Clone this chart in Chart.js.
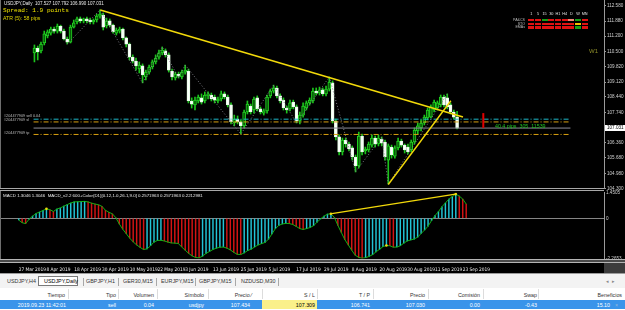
<!DOCTYPE html>
<html>
<head>
<meta charset="utf-8">
<title>USDJPY,Daily</title>
<script src="https://cdn.jsdelivr.net/npm/chart.js@4.4.1/dist/chart.umd.min.js"></script>
<style>
  html, body { margin: 0; padding: 0; }
  body { width: 625px; height: 310px; overflow: hidden; background: #000; position: relative;
         font-family: 'Liberation Sans', Arial, sans-serif; }
  .abs { position: absolute; white-space: nowrap; }
  #price_box { position: absolute; left: 0; top: 0; width: 625px; height: 191px; }
  #macd_box { position: absolute; left: 0; top: 190px; width: 625px; height: 83px; }
  .cell { position: absolute; width: 6px; height: 2.4px; }
  .tab { position: absolute; top: 278px; font-size: 5.4px; line-height: 6px; color: #333; }
  .th { position: absolute; top: 291.5px; font-size: 5.3px; line-height: 6px; color: #333; text-align: right; }
  .td { position: absolute; top: 301.5px; font-size: 5.3px; line-height: 6px; color: #fff; text-align: right; }
</style>
</head>
<body>
<div id="price_box"><canvas id="price_chart" width="625" height="191"></canvas></div>
<div id="macd_box"><canvas id="macd_chart" width="625" height="83"></canvas></div>

<div class="abs" style="left:0;top:0;width:1px;height:259px;background:#6e6e6e"></div>
<div class="abs" style="left:0;top:188px;width:604px;height:1px;border-top:1px solid #a8a8a8;border-bottom:1px solid #a8a8a8;background:#000"></div>
<div class="abs" style="left:0;top:259px;width:625px;height:2px;border-top:1px solid #b4b4b4;border-bottom:1px solid #b4b4b4;background:#4a4a4a"></div>
<div class="abs" style="left:604px;top:263px;width:21px;height:10px;background:#3c3c3c"></div>

<div class="abs" style="left:4px;top:0.5px;font-size:4.5px;line-height:6px;color:#e8e8e8">USDJPY,Daily&nbsp; 107.527 107.792 106.990 107.031</div>
<div class="abs" style="left:3px;top:7.5px;font-family:'Liberation Mono',monospace;font-size:6.1px;line-height:6px;color:#f0e400">Spread: 1.9 points</div>
<div class="abs" style="left:3px;top:15px;font-size:5.2px;line-height:6px;color:#e0d400">ATR (5): 58 pips</div>
<div class="abs" style="left:589px;top:48px;font-size:6px;line-height:6px;color:#8f8f2a">W1</div>
<div class="abs" style="left:4px;top:114px;font-size:3.8px;line-height:4px;color:#bcbcbc">#204477909 sell 0.04</div>
<div class="abs" style="left:4px;top:117.5px;font-size:3.8px;line-height:4px;color:#bcbcbc">#204477909 sl</div>
<div class="abs" style="left:4px;top:130.5px;font-size:3.8px;line-height:4px;color:#bcbcbc">#204477909 tp</div>
<div class="abs" style="left:495px;top:123px;font-size:5.3px;line-height:6px;color:#22c422">40.4 pips&nbsp; 305&nbsp; 11539</div>
<div class="abs" style="left:3px;top:193px;font-size:4.4px;line-height:5px;color:#e8e8e8">MACD 1.3046 1.3046&nbsp; MACD_v2.2 600+Color(D1)[0.12,1.0,26.1,9.0] 0.2571963 0.2571963 0.2212981</div>
<div id="dash"></div>

<div class="abs" style="left:0;top:273px;width:625px;height:15px;background:#f3f3f3;border-top:1px solid #9c9c9c;box-sizing:border-box"></div>
<div class="abs" style="left:38px;top:275.5px;width:40px;height:10.5px;background:#fff;border:1px solid #7a7a7a;box-sizing:border-box"></div>
<div id="tabs"></div>
<div class="abs" style="left:606px;top:278px;font-size:5px;color:#888">&#9666;&nbsp;&nbsp;&#9656;</div>
<div class="abs" style="left:0;top:288px;width:625px;height:11.5px;background:#fff"></div>
<div class="abs" style="left:0;top:299.5px;width:625px;height:9.5px;background:#3a94ea"></div>
<div class="abs" style="left:262px;top:299.5px;width:55px;height:9.5px;background:#faf08a"></div>
<div class="abs" style="left:0;top:309px;width:625px;height:1px;background:#fff"></div>
<div id="table"></div>

<script>
// USDJPY daily bars, 27 Mar 2019 .. 23 Sep 2019
const opens = [
  110.44, 110.66, 110.53, 110.89, 111.21, 111.34, 111.52, 111.43, 111.66, 111.43,
  111.07, 110.93, 111.61, 111.84, 111.98, 111.89, 111.98, 111.93, 111.84, 111.93,
  112.11, 112.16, 111.66, 111.89, 111.70, 111.34, 111.43, 111.52, 111.12, 110.84,
  110.25, 110.07, 109.71, 109.85, 109.35, 109.57, 109.80, 110.03, 110.25, 110.44,
  110.53, 110.35, 109.62, 109.30, 109.48, 109.35, 109.57, 109.62, 108.26, 108.08,
  108.26, 108.40, 108.26, 108.49, 108.53, 108.44, 108.26, 108.35, 108.58, 108.44,
  108.08, 107.26, 107.44, 107.31, 107.13, 107.76, 108.03, 107.85, 108.40, 107.90,
  107.71, 107.81, 108.49, 108.71, 108.85, 108.49, 108.30, 107.94, 107.90, 108.21,
  107.99, 107.35, 107.62, 107.94, 108.17, 108.26, 108.71, 108.62, 108.76, 108.58,
  108.80, 109.08, 107.35, 106.63, 105.95, 106.49, 106.31, 106.13, 105.72, 105.31,
  106.67, 105.99, 106.04, 106.26, 106.58, 106.31, 106.53, 106.40, 105.58, 106.17,
  105.76, 106.13, 106.44, 106.26, 106.17, 106.04, 106.40, 106.90, 107.04, 107.26,
  107.49, 107.53, 107.85, 107.94, 108.08, 108.44, 108.40, 108.08, 107.76, 107.527
];
const highs = [
  110.80, 110.75, 110.93, 111.43, 111.48, 111.61, 111.61, 111.75, 111.70, 111.52,
  111.16, 111.70, 111.93, 112.07, 112.07, 112.02, 112.07, 112.02, 111.98, 112.20,
  112.39, 112.25, 112.02, 111.98, 111.75, 111.57, 111.61, 111.57, 111.16, 110.89,
  110.35, 110.21, 110.03, 109.94, 109.66, 109.89, 110.12, 110.35, 110.57, 110.71,
  110.62, 110.44, 109.71, 109.57, 109.57, 109.66, 109.89, 109.71, 108.40, 108.44,
  108.53, 108.58, 108.67, 108.67, 108.62, 108.53, 108.44, 108.71, 108.67, 108.53,
  108.17, 107.62, 107.58, 107.40, 107.85, 108.26, 108.12, 108.44, 108.49, 107.99,
  107.90, 108.53, 108.80, 108.98, 108.94, 108.58, 108.40, 108.03, 108.30, 108.30,
  108.08, 107.76, 108.17, 108.26, 108.40, 108.85, 108.85, 108.89, 108.85, 108.94,
  109.35, 109.17, 107.44, 106.72, 106.58, 106.58, 106.40, 106.22, 105.81, 106.85,
  106.76, 106.17, 106.40, 106.72, 106.67, 106.72, 106.63, 106.49, 106.31, 106.26,
  106.22, 106.58, 106.53, 106.31, 106.31, 106.49, 107.04, 107.26, 107.40, 107.62,
  107.94, 108.08, 108.30, 108.26, 108.53, 108.53, 108.58, 108.17, 107.85, 107.792
];
const lows = [
  110.03, 110.12, 110.44, 110.80, 111.12, 111.25, 111.34, 111.34, 111.34, 111.03,
  110.84, 110.89, 111.57, 111.75, 111.80, 111.80, 111.80, 111.75, 111.75, 111.84,
  112.02, 111.48, 111.57, 111.61, 111.34, 111.25, 111.34, 111.03, 110.71, 110.12,
  109.98, 109.66, 109.53, 109.08, 109.21, 109.48, 109.71, 109.94, 110.16, 110.35,
  110.25, 109.57, 109.21, 109.21, 109.30, 109.26, 109.48, 108.17, 107.94, 107.85,
  108.17, 108.12, 108.17, 108.35, 108.26, 108.17, 108.17, 108.26, 108.35, 107.99,
  107.22, 107.13, 107.22, 106.76, 107.04, 107.67, 107.67, 107.71, 107.81, 107.67,
  107.62, 107.71, 108.40, 108.62, 108.40, 108.17, 107.85, 107.71, 107.81, 107.90,
  107.26, 107.22, 107.53, 107.85, 108.08, 108.17, 108.53, 108.53, 108.49, 108.49,
  108.71, 107.26, 106.49, 105.81, 105.81, 106.17, 105.99, 105.58, 105.04, 105.22,
  105.81, 105.86, 105.95, 106.17, 106.17, 106.22, 106.22, 105.58, 104.49, 105.67,
  105.67, 106.04, 106.17, 105.90, 105.86, 105.95, 106.31, 106.76, 106.90, 107.17,
  107.40, 107.49, 107.76, 107.85, 107.99, 107.99, 107.90, 107.67, 107.44, 106.990
];
const closes = [
  110.66, 110.48, 110.84, 111.30, 111.39, 111.52, 111.43, 111.66, 111.43, 111.07,
  110.93, 111.61, 111.80, 111.98, 111.89, 111.98, 111.89, 111.84, 111.93, 112.11,
  112.20, 111.61, 111.89, 111.70, 111.39, 111.48, 111.52, 111.12, 110.84, 110.25,
  110.07, 109.85, 109.89, 109.44, 109.57, 109.80, 110.03, 110.21, 110.44, 110.57,
  110.35, 109.66, 109.35, 109.48, 109.39, 109.57, 109.66, 108.26, 108.12, 108.30,
  108.44, 108.21, 108.53, 108.58, 108.35, 108.30, 108.35, 108.58, 108.44, 108.08,
  107.31, 107.44, 107.31, 107.13, 107.76, 108.12, 107.76, 108.35, 107.90, 107.76,
  107.81, 108.44, 108.71, 108.85, 108.49, 108.26, 107.94, 107.85, 108.17, 107.99,
  107.35, 107.62, 108.03, 108.17, 108.30, 108.71, 108.62, 108.76, 108.58, 108.80,
  109.12, 107.35, 106.63, 105.95, 106.49, 106.31, 106.08, 105.72, 105.31, 106.67,
  105.95, 106.08, 106.31, 106.58, 106.31, 106.58, 106.35, 105.72, 106.22, 105.81,
  106.13, 106.44, 106.26, 106.04, 105.95, 106.40, 106.94, 107.13, 107.26, 107.53,
  107.85, 107.99, 108.21, 108.17, 108.44, 108.08, 107.99, 107.76, 107.53, 107.031
];

// MACD_v2.2 histogram / line values
const macd = [
  -0.10, -0.25, -0.30, -0.05, 0.12, 0.27, 0.35, 0.44, 0.53, 0.48,
  0.38, 0.52, 0.58, 0.68, 0.77, 0.86, 0.92, 0.93, 0.94, 0.95,
  0.92, 0.85, 0.80, 0.76, 0.67, 0.45, 0.34, 0.25, 0.03, -0.32,
  -0.62, -0.87, -1.12, -1.33, -1.50, -1.64, -1.76, -1.72, -1.55, -1.34,
  -1.25, -1.24, -1.28, -1.34, -1.39, -1.40, -1.42, -1.62, -1.80, -1.98,
  -2.12, -2.21, -2.23, -2.13, -1.98, -1.87, -1.76, -1.68, -1.63, -1.62,
  -1.68, -1.78, -1.92, -2.03, -2.04, -1.95, -1.82, -1.74, -1.62, -1.50,
  -1.43, -1.36, -1.18, -0.88, -0.58, -0.40, -0.32, -0.29, -0.30, -0.35,
  -0.46, -0.58, -0.63, -0.58, -0.52, -0.42, -0.22, -0.04, 0.12, 0.23,
  0.25, 0.05, -0.40, -0.80, -1.20, -1.50, -1.80, -2.08, -2.20, -2.25,
  -2.22, -2.15, -2.05, -1.89, -1.75, -1.60, -1.53, -1.55, -1.63, -1.62,
  -1.55, -1.40, -1.28, -1.22, -1.17, -1.06, -0.86, -0.66, -0.45, -0.13,
  0.15, 0.37, 0.65, 0.86, 1.08, 1.22, 1.36, 1.25, 1.08, 0.80
];
const macdMarks = [8, 90, 106, 126];

// axes
const dateIdx = [0, 8, 16, 24, 32, 40, 48, 56, 64, 72, 80, 88, 96, 104, 112, 120, 128];
const dateLabels = ['27 Mar 2019', '8 Apr 2019', '18 Apr 2019', '30 Apr 2019', '10 May 2019',
  '22 May 2019', '3 Jun 2019', '13 Jun 2019', '25 Jun 2019', '5 Jul 2019', '17 Jul 2019',
  '29 Jul 2019', '8 Aug 2019', '20 Aug 2019', '30 Aug 2019', '11 Sep 2019', '23 Sep 2019'];
const priceTicks = [112.580, 111.880, 111.200, 110.500, 109.820, 109.120, 108.440, 107.740,
  106.360, 105.680, 104.980, 104.300];
const macdTicks = [1.4505, 0, -2.2653];
const macdTickLabels = ['1.4505', '0', '-2.2653'];

// drawings on the chart
const zzIdx = [10, 20, 33, 39, 44, 46, 63, 73, 80, 90, 98, 106, 108, 126];
const zzPrice = [110.84, 112.39, 109.08, 110.71, 109.30, 109.89, 106.76, 108.98, 107.26,
  109.35, 105.04, 106.63, 104.49, 108.58];
const trendDown = [[20.1, 112.39], [130.8, 107.53]];
const trendUp = [[108, 104.47], [127.1, 108.27]];
const divLine = [[89.8, 0.25], [125.9, 1.36]];
const sellPrice = 107.434;
const slPrice = 107.309;
const tpPrice = 106.741;
const bid = 107.031;
const redMark = [137, 107.04, 107.71];

const xMin = -0.27, xMax = 163.6;
const FONT = "'Liberation Sans', Arial, sans-serif";
const NARROW = "'Liberation Sans Narrow', 'DejaVu Sans Condensed', 'Liberation Sans', sans-serif";

function hline(price, color, dash) {
  return {
    type: 'line', data: [{ x: xMin, y: price }, { x: xMax, y: price }],
    borderColor: color, borderWidth: 1, borderDash: dash, pointRadius: 0, order: 1
  };
}
function seg(pts, color, width, dash) {
  return {
    type: 'line', data: pts.map(p => ({ x: p[0], y: p[1] })),
    borderColor: color, borderWidth: width, borderDash: dash || [], pointRadius: 0, order: 0
  };
}

const bull = opens.map((o, i) => closes[i] >= o);

const priceLabelBox = {
  id: 'priceLabelBox',
  afterDraw(chart) {
    const ctx = chart.ctx;
    const y = chart.scales.y.getPixelForValue(bid);
    const left = chart.chartArea.right + 1;
    ctx.save();
    ctx.fillStyle = '#ffffff';
    ctx.fillRect(left, Math.round(y) - 3, 20, 6);
    ctx.fillStyle = '#000000';
    ctx.font = '4.6px ' + FONT;
    ctx.textBaseline = 'middle';
    ctx.fillText(bid.toFixed(3), left + 2, Math.round(y));
    ctx.restore();
  }
};

new Chart(document.getElementById('price_chart'), {
  type: 'bar',
  data: {
    datasets: [
      seg(trendDown, '#f2d90a', 1.6),
      seg(trendUp, '#f2d90a', 1.4),
      {
        type: 'line', data: zzIdx.map((x, i) => ({ x: x, y: zzPrice[i] })),
        borderColor: '#7c7c84', borderWidth: 1, borderDash: [1, 2], pointRadius: 0, order: 1
      },
      seg([[redMark[0], redMark[1]], [redMark[0], redMark[2]]], '#e00000', 2),
      hline(sellPrice, '#1fb8c8', [5, 2, 1, 2]),
      hline(slPrice, '#d9a010', [5, 2, 1, 2]),
      hline(tpPrice, '#d9a010', [5, 2, 1, 2]),
      hline(bid, '#8c8c98', []),
      {
        data: opens.map((o, i) => ({ x: i, y: [Math.min(o, closes[i]), Math.max(o, closes[i])] })),
        backgroundColor: bull.map(b => b ? '#075a07' : '#ffffff'),
        borderColor: bull.map(b => b ? '#22d422' : '#e4ffe4'),
        borderWidth: 1, borderSkipped: false, barThickness: 3, minBarLength: 1,
        grouped: false, order: 2
      },
      {
        data: opens.map((o, i) => ({ x: i, y: [lows[i], highs[i]] })),
        backgroundColor: '#1cc41c', barThickness: 1, grouped: false, order: 3
      }
    ]
  },
  options: {
    responsive: false, animation: false, devicePixelRatio: 1, events: [],
    layout: { padding: { top: 0, left: 0, right: 0, bottom: 3 } },
    plugins: { legend: { display: false }, tooltip: { enabled: false } },
    scales: {
      x: { type: 'linear', min: xMin, max: xMax, display: false },
      y: {
        position: 'right', min: 104.313, max: 112.839,
        afterBuildTicks: s => { s.ticks = priceTicks.map(v => ({ value: v })); },
        afterFit: s => { s.width = 21; s.paddingTop = 0; s.paddingBottom = 0; },
        ticks: {
          autoSkip: false, padding: 1, color: '#d0d0d0',
          font: { size: 4.6, family: FONT }, callback: v => v.toFixed(3)
        },
        grid: { drawOnChartArea: false, drawTicks: true, tickLength: 2, color: '#9a9a9a' },
        border: { display: true, color: '#9a9a9a' }
      }
    }
  },
  plugins: [priceLabelBox]
});

new Chart(document.getElementById('macd_chart'), {
  type: 'bar',
  data: {
    datasets: [
      seg(divLine, '#f2d90a', 1.4),
      {
        type: 'line', data: macd.map((v, i) => ({ x: i, y: v })),
        borderColor: '#12b012', borderWidth: 1, order: 1,
        pointRadius: macd.map((v, i) => macdMarks.includes(i) ? 1.3 : 0),
        pointBackgroundColor: '#f2d90a', pointBorderWidth: 0
      },
      {
        data: macd.map((v, i) => ({ x: i, y: v })),
        backgroundColor: macd.map((v, i) => (i === 0 || v >= macd[i - 1]) ? '#22c4d6' : '#d41414'),
        barThickness: 0.8, grouped: false, order: 2
      }
    ]
  },
  options: {
    responsive: false, animation: false, devicePixelRatio: 1, events: [],
    layout: { padding: { top: 2.5, left: 0, right: 0, bottom: 0 } },
    plugins: { legend: { display: false }, tooltip: { enabled: false } },
    scales: {
      x: {
        type: 'linear', min: xMin, max: xMax,
        afterBuildTicks: s => { s.ticks = dateIdx.map(v => ({ value: v })); },
        afterFit: s => { s.height = 14.5; s.paddingLeft = 0; s.paddingRight = 0; },
        ticks: {
          autoSkip: false, maxRotation: 0, minRotation: 0, align: 'start', padding: 8,
          color: '#f0f0f0', font: { size: 4.8, family: NARROW },
          callback: (v, i) => dateLabels[i]
        },
        grid: { display: false, drawTicks: false },
        border: { display: false }
      },
      y: {
        position: 'right', min: -2.2653, max: 1.4505,
        afterBuildTicks: s => { s.ticks = macdTicks.map(v => ({ value: v })); },
        afterFit: s => { s.width = 21; s.paddingTop = 0; s.paddingBottom = 0; },
        ticks: {
          autoSkip: false, padding: 2, color: '#d0d0d0',
          font: { size: 4.6, family: FONT }, callback: (v, i) => macdTickLabels[i]
        },
        grid: {
          drawTicks: false,
          color: c => (c.tick && c.tick.value === 0) ? '#858585' : 'rgba(0,0,0,0)'
        },
        border: { display: true, color: '#9a9a9a' }
      }
    }
  }
});

// signal dashboard (top right)
const dashRows = ['PA&CS', 'STO', 'EMAs'];
const dashTfs = ['1', '5', '15', '30', 'H1', 'H4', 'D', 'W', 'MN'];
const dashStates = [
  ['d', 'd', 'u', 'd', 'd', 'd', 'w', 'u', 'd'],
  ['d', 'd', 'd', 'd', 'd', 'd', 'd', 'n', 'd'],
  ['d', 'd', 'd', 'd', 'd', 'd', 'd', 'u', 'd']
];
const stateColor = { d: '#e01212', u: '#16a016', w: '#f08a78', n: '#f0c000' };
let dashHtml = '';
dashTfs.forEach((t, k) => {
  dashHtml += `<div class="abs" style="left:${528.3 + k * 6.67}px;top:11.5px;width:6px;text-align:center;font-size:3.8px;line-height:4px;color:#e0e0e0">${t}</div>`;
});
dashRows.forEach((r, j) => {
  const top = 19 + j * 3.65;
  dashHtml += `<div class="abs" style="right:${625 - 525}px;top:${top - 1}px;font-size:3.6px;line-height:4px;color:#bdbdbd">${r}</div>`;
  dashStates[j].forEach((s, k) => {
    dashHtml += `<div class="cell" style="left:${528.3 + k * 6.67}px;top:${top}px;background:${stateColor[s]}"></div>`;
  });
});
document.getElementById('dash').innerHTML = dashHtml;

// terminal tabs
const tabNames = ['USDJPY,H4', 'USDJPY,Daily', 'GBPJPY,H1', 'GER30,M15', 'EURJPY,M15', 'GBPJPY,M15', 'NZDUSD,M30'];
const tabLeft = [7, 44, 86, 123, 161, 199, 241];
const tabBars = [83, 118, 156, 195, 235, 278];
let tabHtml = '';
tabNames.forEach((t, i) => {
  tabHtml += `<div class="tab" style="left:${tabLeft[i]}px;${i === 1 ? 'color:#000' : ''}">${t}</div>`;
});
tabBars.forEach(x => {
  tabHtml += `<div class="abs" style="left:${x}px;top:277.5px;width:1px;height:8px;background:#a8a8a8"></div>`;
});
document.getElementById('tabs').innerHTML = tabHtml;

// trade table
const colHeads = ['Tiempo', 'Tipo', 'Volumen', 'Símbolo', 'Precio ⁄', 'S / L', 'T / P', 'Precio', 'Comisión', 'Swap', 'Beneficios'];
const colRight = [65, 116, 154, 204, 252, 315, 370, 425, 480, 537, 622];
const rowVals = ['2019.09.23 11:42:01', 'sell', '0.04', 'usdjpy', '107.434', '107.309', '106.741', '107.030', '0.00', '-0.43', '15.10'];
const rowRight = [66, 116, 154, 204, 250, 315, 370, 425, 480, 537, 610];
const colLines = [68, 118, 157, 208, 262, 317, 373, 428, 483, 538];
let tableHtml = '';
colHeads.forEach((h, i) => {
  tableHtml += `<div class="th" style="right:${625 - colRight[i]}px">${h}</div>`;
});
colLines.forEach(x => {
  tableHtml += `<div class="abs" style="left:${x}px;top:289px;width:1px;height:10px;background:#dcdcdc"></div>`;
});
rowVals.forEach((v, i) => {
  tableHtml += `<div class="td" style="right:${625 - rowRight[i]}px;${i === 5 ? 'color:#000' : ''}">${v}</div>`;
});
tableHtml += `<div class="td" style="left:615px;color:#9ab8d8">×</div>`;
document.getElementById('table').innerHTML = tableHtml;
</script>
</body>
</html>
